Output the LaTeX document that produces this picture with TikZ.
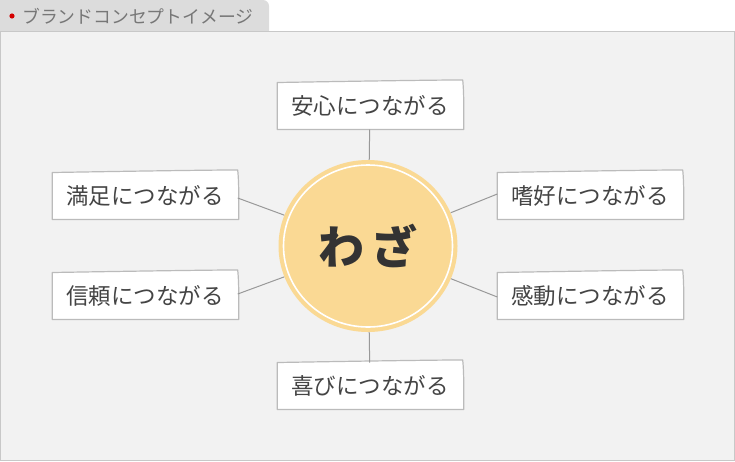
\documentclass[tikz,border=0pt]{standalone}
\usepackage{fontspec}
\newfontfamily\jp{Noto Sans CJK JP}
\usetikzlibrary{calc,shapes.geometric}
\pgfdeclarelayer{back}
\pgfdeclarelayer{mid}
\pgfsetlayers{back,mid,main}
\definecolor{panelfill}{HTML}{F2F2F2}
\definecolor{panelline}{HTML}{C8C8C8}
\definecolor{tabgray}{HTML}{DCDCDC}
\definecolor{tabtext}{HTML}{777777}
\definecolor{dotred}{HTML}{D40000}
\definecolor{circfill}{HTML}{FAD994}
\definecolor{paperline}{HTML}{BBBBBB}
\definecolor{linkgray}{HTML}{999999}
\definecolor{boxtext}{HTML}{444444}
\definecolor{wazatext}{HTML}{333333}
\tikzset{
  pbox/.style={minimum width=185pt, minimum height=46.6pt, inner sep=0pt,
    font=\jp\fontsize{22.5}{25}\selectfont, text=boxtext},
  paper/.style={fill=white, draw=paperline, line width=1.2pt, line join=round},
  link/.style={draw=linkgray, line width=1pt},
}
\newcommand\paperof[1]{%
  \begin{pgfonlayer}{mid}
  \path[paper] (#1.south west) -- (#1.north west)
    .. controls +(60,-1) and +(-60,0.5) .. ($(#1.north east)+(0,-2.6)$)
    .. controls +(1.5,15) and +(0,-15) .. ($(#1.south east)+(1,0)$) -- cycle;
  \end{pgfonlayer}}
\begin{document}
\begin{tikzpicture}[x=1pt,y=-1pt]
\useasboundingbox (0,0) rectangle (735,461);
\begin{pgfonlayer}{back}
  \fill[tabgray] (0,32) -- (0,0) -- (263,0) .. controls (266.3,0) and (269,2.7) .. (269,6) -- (269,32) -- cycle;
  \path[fill=panelfill, draw=panelline, line width=1pt] (0.5,31.5) rectangle (734.5,460.5);
\end{pgfonlayer}
\fill[dotred] (12,16) circle (2.6pt);
\node[anchor=west, inner sep=0pt, font=\jp\fontsize{17.8}{20}\selectfont, text=tabtext] (tab) at (22,16) {ブランドコンセプトイメージ};

\node[ellipse, minimum width=179pt, minimum height=172pt, inner sep=0pt, fill=circfill,
  font=\jp\bfseries\fontsize{46}{50}\selectfont, text=wazatext] (c) at (368,246) {わ\kern7pt ざ};
\draw[white, line width=1.6pt] (c.center) ellipse [x radius=84.5pt, y radius=81pt];

\node[pbox] (t)  at (370,106) {安心につながる};
\node[pbox] (lu) at (145,196) {満足につながる};
\node[pbox] (ll) at (145,296) {信頼につながる};
\node[pbox] (ru) at (590,196) {嗜好につながる};
\node[pbox] (rl) at (590,296) {感動につながる};
\node[pbox] (b)  at (370,386) {喜びにつながる};
\paperof{t}\paperof{lu}\paperof{ll}\paperof{ru}\paperof{rl}\paperof{b}

\draw[link] (c) -- (t);
\draw[link] (c) -- (b);
\draw[link] (c) -- ($(lu.east)+(0,2)$);
\draw[link] (c) -- ($(ll.east)+(0,-2)$);
\draw[link] (c) -- ($(ru.west)+(0,-2)$);
\draw[link] (c) -- ($(rl.west)+(0,1)$);
\end{tikzpicture}
\end{document}
